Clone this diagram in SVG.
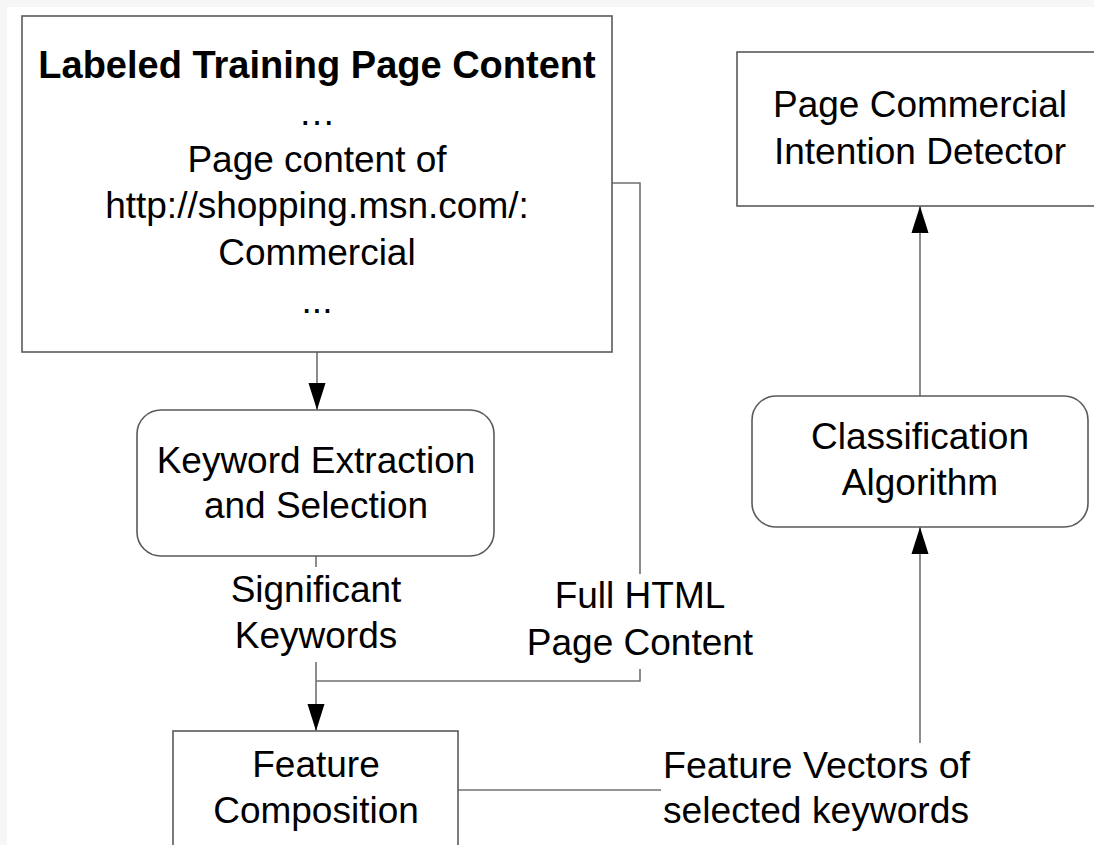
<svg xmlns="http://www.w3.org/2000/svg" width="1094" height="845" viewBox="0 0 1094 845">
  <style>
    .box { fill: #ffffff; stroke: #5a5a5a; stroke-width: 1.6; }
    .wire { fill: none; stroke: #707070; stroke-width: 1.6; }
    .t { font-family: "Liberation Sans", Arial, sans-serif; font-size: 37px; fill: #000000; text-anchor: middle; }
    .tb { font-weight: bold; font-size: 38px; }
  </style>
  <defs>
    <marker id="arrow" markerUnits="userSpaceOnUse" markerWidth="18" markerHeight="28" viewBox="0 0 18 28" refX="9" refY="0" orient="auto-start-reverse">
      <path d="M9 0 L17.5 27 L0.5 27 Z" fill="#000000"/>
    </marker>
    <marker id="head" markerUnits="userSpaceOnUse" markerWidth="28" markerHeight="18" viewBox="0 0 28 18" refX="28" refY="9" orient="auto">
      <path d="M28 9 L1 0.5 L1 17.5 Z" fill="#000000"/>
    </marker>
  </defs>

  <!-- page background -->
  <rect x="0" y="0" width="1094" height="845" fill="#f6f6f6"/>
  <rect x="7" y="7" width="1087" height="838" fill="#ffffff"/>

  <!-- connectors -->
  <g id="connectors">
    <line class="wire" x1="317" y1="352" x2="317" y2="410" marker-end="url(#head)"/>
    <polyline class="wire" points="612,183 640,183 640,574"/>
    <polyline class="wire" points="640,669 640,681 316,681"/>
    <line class="wire" x1="316" y1="556" x2="316" y2="567"/>
    <line class="wire" x1="316" y1="662" x2="316" y2="731" marker-end="url(#head)"/>
    <line class="wire" x1="458" y1="790" x2="661" y2="790"/>
    <line class="wire" x1="920" y1="743" x2="920" y2="527" marker-end="url(#head)"/>
    <line class="wire" x1="920" y1="396" x2="920" y2="206" marker-end="url(#head)"/>
    <!-- connector labels -->
    <text class="t" x="316" y="602">Significant</text>
    <text class="t" x="316" y="648">Keywords</text>
    <text class="t" x="640" y="608">Full HTML</text>
    <text class="t" x="640" y="655">Page Content</text>
    <text class="t" x="663" y="778" style="text-anchor:start" textLength="307" lengthAdjust="spacingAndGlyphs">Feature Vectors of</text>
    <text class="t" x="663" y="823" style="text-anchor:start" textLength="306" lengthAdjust="spacingAndGlyphs">selected keywords</text>
  </g>

  <g id="training-content">
    <rect class="box" x="22" y="16" width="590" height="336"/>
    <text class="t tb" x="317" y="78">Labeled Training Page Content</text>
    <text class="t" x="317" y="125">…</text>
    <text class="t" x="317" y="172">Page content of</text>
    <text class="t" x="317" y="218">http://shopping.msn.com/:</text>
    <text class="t" x="317" y="265">Commercial</text>
    <text class="t" x="317" y="313">...</text>
  </g>

  <g id="keyword-extraction">
    <rect class="box" x="137" y="410" width="357" height="146" rx="24" ry="24"/>
    <text class="t" x="316" y="473">Keyword Extraction</text>
    <text class="t" x="316" y="518">and Selection</text>
  </g>

  <g id="feature-composition">
    <rect class="box" x="173" y="731" width="285" height="130"/>
    <text class="t" x="316" y="777">Feature</text>
    <text class="t" x="316" y="823">Composition</text>
  </g>

  <g id="classification">
    <rect class="box" x="752" y="396" width="336" height="131" rx="24" ry="24"/>
    <text class="t" x="920" y="449">Classification</text>
    <text class="t" x="920" y="495">Algorithm</text>
  </g>

  <g id="detector">
    <rect class="box" x="737" y="52" width="380" height="154"/>
    <text class="t" x="920" y="117">Page Commercial</text>
    <text class="t" x="920" y="164">Intention Detector</text>
  </g>
</svg>
